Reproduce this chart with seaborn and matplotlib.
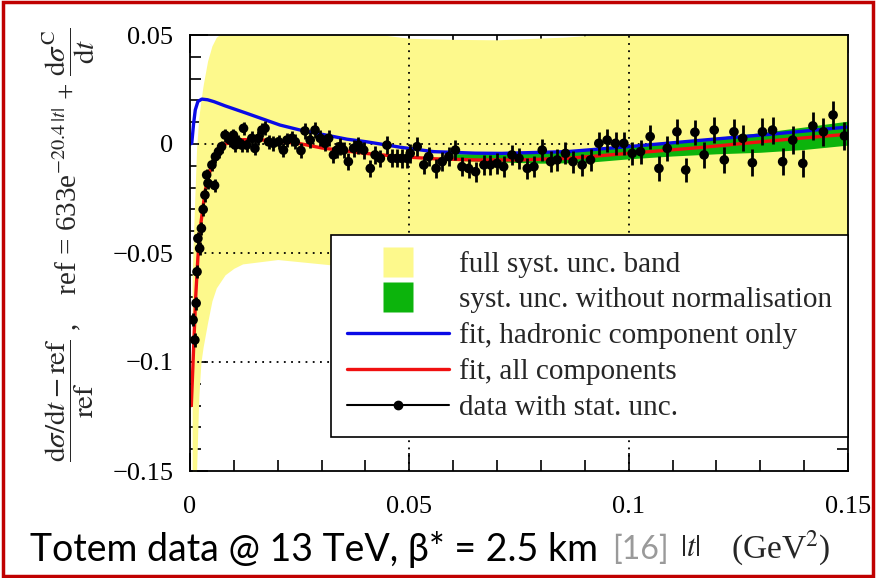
import matplotlib
matplotlib.use('Agg')
import matplotlib.pyplot as plt
import seaborn as sns
from matplotlib.lines import Line2D
from matplotlib.patches import Rectangle
from matplotlib.ticker import MultipleLocator, FixedLocator, FixedFormatter

# ---- data ----
# |t| (GeV^2) and relative deviation of the measured points
t_data = [0.0007, 0.0011, 0.0014, 0.0016, 0.0018, 0.0022, 0.0026, 0.0030, 0.0034, 0.0038,
          0.0041, 0.0050, 0.0056, 0.0058, 0.0065, 0.0072, 0.0080, 0.0091, 0.0099, 0.0103,
          0.0110, 0.0118, 0.0122, 0.0129, 0.0141, 0.0148, 0.0156, 0.0164, 0.0171, 0.0179,
          0.0190, 0.0202, 0.0213, 0.0221, 0.0232, 0.0240, 0.0253, 0.0262, 0.0274, 0.0285,
          0.0297, 0.0308, 0.0316, 0.0327, 0.0335, 0.0342, 0.0350, 0.0361, 0.0373, 0.0384,
          0.0396, 0.0411, 0.0422, 0.0434, 0.0449, 0.0460, 0.0472, 0.0483, 0.0495, 0.0502,
          0.0518, 0.0533, 0.0544, 0.0561, 0.0575, 0.0590, 0.0605, 0.0620, 0.0635, 0.0651,
          0.0670, 0.0685, 0.0700, 0.0715, 0.0734, 0.0750, 0.0769, 0.0784, 0.0803, 0.0822,
          0.0837, 0.0856, 0.0873, 0.0894, 0.0913, 0.0932, 0.0951, 0.0970, 0.0989, 0.1008,
          0.1027, 0.1049, 0.1069, 0.1088, 0.1110, 0.1130, 0.1151, 0.1172, 0.1195, 0.1218,
          0.1240, 0.1260, 0.1282, 0.1305, 0.1328, 0.1351, 0.1374, 0.1397, 0.1420, 0.1444,
          0.1466, 0.1492]
v_data = [-0.0807, -0.0899, -0.0730, -0.0586, -0.0433, -0.0479, -0.0387, -0.0300, -0.0234, -0.0142,
          -0.0180, -0.0096, -0.0190, -0.0058, -0.0035, -0.0012, 0.0041, 0.0018, 0.0041, -0.0005,
          0.0010, -0.0005, 0.0072, -0.0005, 0.0026, -0.0020, 0.0026, 0.0064, 0.0072, 0.0010,
          0.0003, 0.0010, -0.0028, 0.0018, 0.0026, 0.0010, -0.0030, 0.0060, 0.0018, 0.0064,
          0.0026, 0.0003, 0.0026, -0.0050, -0.0028, -0.0012, -0.0028, -0.0081, -0.0020, -0.0005,
          -0.0028, -0.0112, -0.0050, -0.0066, -0.0005, -0.0066, -0.0066, -0.0066, -0.0066, -0.0043,
          -0.0012, -0.0096, -0.0058, -0.0112, -0.0081, -0.0058, -0.0028, -0.0104, -0.0112, -0.0127,
          -0.0096, -0.0096, -0.0089, -0.0104, -0.0050, -0.0066, -0.0112, -0.0104, -0.0028, -0.0081,
          -0.0073, -0.0043, -0.0081, -0.0096, -0.0073, 0.0003, 0.0018, 0.0003, 0.0003, -0.0043,
          -0.0035, 0.0034, -0.0112, -0.0020, 0.0056, -0.0119, 0.0054, -0.0050, 0.0064, -0.0073,
          0.0056, 0.0026, -0.0086, 0.0056, 0.0064, -0.0081, 0.0018, -0.0089, 0.0083, 0.0056,
          0.0133, 0.0037]
err_data = [0.0030, 0.0030, 0.0030, 0.0030, 0.0030, 0.0030, 0.0030, 0.0030, 0.0030, 0.0028,
            0.0028, 0.0028, 0.0028, 0.0028, 0.0028, 0.0028, 0.0030, 0.0030, 0.0030, 0.0030,
            0.0030, 0.0030, 0.0030, 0.0030, 0.0032, 0.0032, 0.0032, 0.0032, 0.0032, 0.0032,
            0.0033, 0.0033, 0.0033, 0.0034, 0.0034, 0.0034, 0.0035, 0.0035, 0.0035, 0.0036,
            0.0036, 0.0036, 0.0037, 0.0037, 0.0037, 0.0038, 0.0038, 0.0038, 0.0039, 0.0039,
            0.0039, 0.0040, 0.0040, 0.0040, 0.0041, 0.0041, 0.0041, 0.0042, 0.0042, 0.0042,
            0.0043, 0.0043, 0.0043, 0.0044, 0.0044, 0.0044, 0.0045, 0.0045, 0.0045, 0.0046,
            0.0046, 0.0046, 0.0047, 0.0047, 0.0047, 0.0048, 0.0048, 0.0048, 0.0049, 0.0049,
            0.0050, 0.0050, 0.0051, 0.0051, 0.0052, 0.0052, 0.0053, 0.0053, 0.0054, 0.0054,
            0.0055, 0.0055, 0.0056, 0.0056, 0.0057, 0.0057, 0.0058, 0.0058, 0.0059, 0.0059,
            0.0060, 0.0060, 0.0061, 0.0061, 0.0062, 0.0062, 0.0063, 0.0063, 0.0064, 0.0064,
            0.0065, 0.0065]

# fit, hadronic component only
t_blue = [0.0, 0.0004, 0.0008, 0.0012, 0.0018, 0.0027, 0.0040, 0.0055, 0.0080, 0.0129,
          0.0205, 0.0251, 0.0282, 0.0358, 0.0403, 0.0480, 0.0555, 0.0650, 0.0710, 0.0860,
          0.1000, 0.1170, 0.1330, 0.1500]
v_blue = [0.0, 0.0003, 0.0090, 0.0156, 0.0195, 0.0206, 0.0203, 0.0194, 0.0175, 0.0141,
          0.0087, 0.0064, 0.0052, 0.0022, 0.0010, -0.0015, -0.0035, -0.0042, -0.0043, -0.0035,
          -0.0012, 0.0018, 0.0046, 0.0078]

# fit, all components
t_red = [0.0003, 0.0006, 0.0009, 0.0013, 0.0018, 0.0025, 0.0035, 0.0050, 0.0065, 0.0080,
         0.0120, 0.0170, 0.0200, 0.0250, 0.0300, 0.0400, 0.0480, 0.0560, 0.0650, 0.0750,
         0.0860, 0.1000, 0.1170, 0.1300, 0.1400, 0.1500]
v_red = [-0.120, -0.105, -0.090, -0.070, -0.052, -0.036, -0.021, -0.009, -0.003, 0.0,
         0.0020, 0.0018, 0.0012, 0.0002, -0.0018, -0.0043, -0.0058, -0.0068, -0.0073, -0.0073,
         -0.0066, -0.0043, -0.0015, 0.0010, 0.0028, 0.0045]

# full syst. unc. band
t_band = [0.0005, 0.0010, 0.0015, 0.0020, 0.0025, 0.0030, 0.0040, 0.0050, 0.0060, 0.0080,
          0.0100, 0.0120, 0.0200, 0.0300, 0.0400, 0.0500, 0.0600, 0.0700, 0.0850, 0.1000,
          0.1200, 0.1500]
band_hi = [-0.060, -0.030, -0.002, 0.012, 0.020, 0.027, 0.038, 0.045, 0.049, 0.052,
           0.053, 0.053, 0.053, 0.052, 0.051, 0.0485, 0.0480, 0.0478, 0.0490, 0.051,
           0.053, 0.056]
band_lo = [-0.160, -0.160, -0.150, -0.116, -0.100, -0.093, -0.082, -0.072, -0.066, -0.060,
           -0.057, -0.055, -0.053, -0.055, -0.057, -0.059, -0.061, -0.063, -0.065, -0.067,
           -0.069, -0.072]

# syst. unc. without normalisation
t_green = [0.06, 0.07, 0.08, 0.09, 0.10, 0.11, 0.12, 0.13, 0.14, 0.15]
green_lo = [-0.0075, -0.0082, -0.0088, -0.0085, -0.0068, -0.0055, -0.0045, -0.0038, -0.0025, -0.0005]
green_hi = [-0.0045, -0.0043, -0.0038, -0.0025, -0.0005, 0.0012, 0.0030, 0.0052, 0.0078, 0.0105]

x_ticks = [0, 0.05, 0.1, 0.15]
x_tick_labels = ['0', '0.05', '0.1', '0.15']
y_ticks = [-0.15, -0.1, -0.05, 0, 0.05]
y_tick_labels = ['\u22120.15', '\u22120.1', '\u22120.05', '0', '0.05']

legend_labels = ['full syst. unc. band', 'syst. unc. without normalisation',
                 'fit, hadronic component only', 'fit, all components',
                 'data with stat. unc.']

YELLOW = '#fdf98c'
GREEN = '#0cb40c'
BLUE = '#0a0ae6'
RED = '#f01010'

sns.set_theme(style='ticks')
plt.rcParams['font.family'] = ['Liberation Serif', 'DejaVu Serif']
plt.rcParams['mathtext.fontset'] = 'stix'

fig = plt.figure(figsize=(8.76, 5.78), dpi=100)
ax = fig.add_axes([190 / 876, 1 - 471 / 578, 658 / 876, 436 / 578])
ax.set_facecolor('white')

# bands
ax.fill_between(t_band, band_lo, band_hi, color=YELLOW, lw=0, zorder=1)
for yv in [0, -0.05, -0.1]:
    ax.axhline(yv, color='black', lw=1.3, ls=(0, (1, 3)), zorder=2)
for xv in [0.05, 0.1]:
    ax.axvline(xv, color='black', lw=1.3, ls=(0, (1, 3)), zorder=2)
ax.fill_between(t_green, green_lo, green_hi, color=GREEN, lw=0, zorder=3)

# fits
sns.lineplot(x=t_blue, y=v_blue, color=BLUE, lw=2.4, ax=ax, zorder=4)
sns.lineplot(x=t_red, y=v_red, color=RED, lw=2.4, ax=ax, zorder=4)

# data
ax.errorbar(t_data, v_data, yerr=err_data, fmt='none', ecolor='black', elinewidth=2.0, zorder=5)
sns.scatterplot(x=t_data, y=v_data, color='black', s=48, edgecolor='none', ax=ax, zorder=6)

ax.set_xlim(0, 0.15)
ax.set_ylim(-0.15, 0.05)
ax.xaxis.set_major_locator(FixedLocator(x_ticks))
ax.xaxis.set_major_formatter(FixedFormatter(x_tick_labels))
ax.yaxis.set_major_locator(FixedLocator(y_ticks))
ax.yaxis.set_major_formatter(FixedFormatter(y_tick_labels))
ax.xaxis.set_minor_locator(MultipleLocator(0.01))
ax.yaxis.set_minor_locator(MultipleLocator(0.01))
ax.tick_params(which='both', direction='in', top=True, right=True, color='black', width=1.2)
ax.tick_params(which='major', length=13, labelsize=19, labelcolor='black')
ax.tick_params(which='minor', length=8)
ax.tick_params(axis='x', pad=18)
ax.tick_params(axis='y', pad=12)
for sp in ax.spines.values():
    sp.set_color('black')
    sp.set_linewidth(1.3)
    sp.set_zorder(8)
ax.set_xlabel('')
ax.set_ylabel('')

# legend
handles = [
    Line2D([], [], marker='s', ls='none', ms=22, mfc=YELLOW, mec='none'),
    Line2D([], [], marker='s', ls='none', ms=22, mfc=GREEN, mec='none'),
    Line2D([], [], color=BLUE, lw=2.4),
    Line2D([], [], color=RED, lw=2.4),
    Line2D([], [], color='black', lw=1.5, marker='o', ms=6),
]
leg = ax.legend(handles, legend_labels, loc='lower right', bbox_to_anchor=(1.0, 0.078),
                borderaxespad=0, fontsize=21, handlelength=3.5, handletextpad=0.34,
                labelspacing=0.31, borderpad=0.55, frameon=True, fancybox=False,
                framealpha=1, edgecolor='black', facecolor='white')
leg.get_frame().set_linewidth(1.2)
leg.set_zorder(10)

# y label
ylab = (r'$\dfrac{\mathrm{d}\sigma/\mathrm{d}t-\mathrm{ref}}{\mathrm{ref}}$ ,    '
        r'ref = 633e$^{-20.4\,|t|}$ + $\dfrac{\mathrm{d}\sigma^{\mathrm{C}}}{\mathrm{d}t}$')
fig.text(69 / 876, 1 - 245 / 578, ylab, rotation=90, ha='center', va='center', fontsize=21)

# bottom caption
fig.text(30 / 876, 1 - 550 / 578, 'Totem data @ 13 TeV, \u03b2* = 2.5 km',
         family=['Lato', 'DejaVu Sans'], fontsize=27, va='center', color='black')
fig.text(612 / 876, 1 - 550 / 578, '[16]', family=['Lato', 'DejaVu Sans'],
         fontsize=23, va='center', color='#9a9a9a')
fig.text(690 / 876, 1 - 548 / 578, r'$|t|$', fontsize=22, ha='center', va='center')
fig.text(781 / 876, 1 - 548 / 578, r'(GeV$^2$)', fontsize=24, ha='center', va='center')

# red frame around the slide picture
fig.add_artist(Rectangle((0.003, 0.004), 0.994, 0.992, transform=fig.transFigure,
                         fill=False, edgecolor='#c00000', lw=2.5))

fig.savefig('out.png', dpi=100)
